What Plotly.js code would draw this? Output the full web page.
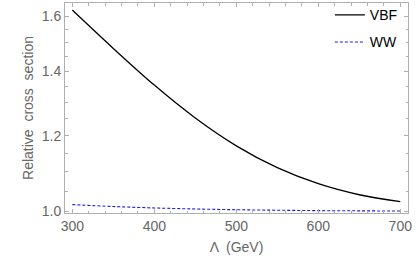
<!DOCTYPE html>
<html>
<head>
<meta charset="utf-8">
<script src="https://cdn.plot.ly/plotly-3.0.1.min.js"></script>
<style>html,body{margin:0;padding:0;background:#fff;}#chart{width:416px;height:256px;}</style>
</head>
<body>
<div id="chart"></div>
<script>
const lambdaVals = [300, 350, 400, 450, 500, 550, 600, 650, 700];
const vbfVals = [1.623, 1.480, 1.355, 1.252, 1.171, 1.111, 1.069, 1.041, 1.024];
const wwVals = [1.0165, 1.012, 1.0085, 1.006, 1.0042, 1.003, 1.002, 1.0015, 1.001];
const yTickVals = [1.0, 1.2, 1.4, 1.6];
const yTickText = ["1.0", "1.2", "1.4", "1.6"];
const yMinorVals = [1.05, 1.1, 1.15, 1.25, 1.3, 1.35, 1.45, 1.5, 1.55, 1.65];
const xTickVals = [300, 400, 500, 600, 700];
const seriesNames = ["VBF", "WW"];

const grey = "#666666";
const axisCol = "#b0b0b0";

const traces = [
  {x: lambdaVals, y: vbfVals, name: seriesNames[0], mode: "lines", type: "scatter",
   line: {color: "#000000", width: 1.3, shape: "spline"}, legendgroup: "a"},
  {x: lambdaVals, y: wwVals, name: seriesNames[1], mode: "lines", type: "scatter",
   line: {color: "#1a1aee", width: 1.1, dash: "3px,2px", shape: "spline"}, legendgroup: "b"}
];

const layout = {
  width: 416, height: 256,
  margin: {l: 65, r: 8, t: 3, b: 43, autoexpand: false},
  paper_bgcolor: "#fff", plot_bgcolor: "#fff",
  font: {family: "Liberation Sans, Arial, sans-serif", size: 14, color: grey},
  showlegend: true,
  legend: {x: 0.985, y: 1.018, xanchor: "right", yanchor: "top", bgcolor: "rgba(0,0,0,0)",
           font: {color: "#000", size: 14}, tracegroupgap: 6, traceorder: "grouped"},
  xaxis: {
    range: [291.1, 709.4], tickvals: xTickVals, ticks: "inside", ticklen: 4, tickcolor: axisCol,
    showline: true, linecolor: axisCol, linewidth: 1, mirror: "ticks", showgrid: false, zeroline: false,
    tickfont: {size: 14, color: grey},
    minor: {dtick: 20, tick0: 300, ticks: "inside", ticklen: 2.5, tickcolor: axisCol, showgrid: false},
    title: {text: "Λ  (GeV)", font: {size: 14, color: grey}, standoff: 9}
  },
  yaxis: {
    type: "log", range: [-0.0016, 0.2177], tickvals: yTickVals, ticktext: yTickText,
    ticks: "inside", ticklen: 4, tickcolor: axisCol,
    showline: true, linecolor: axisCol, linewidth: 1, mirror: "ticks", showgrid: false, zeroline: false,
    tickfont: {size: 14, color: grey},
    minor: {tickmode: "array", tickvals: yMinorVals, ticks: "inside", ticklen: 2.5, tickcolor: axisCol, showgrid: false},
    title: {text: "Relative  cross  section", font: {size: 14, color: grey}, standoff: 4}
  }
};

Plotly.newPlot("chart", traces, layout, {staticPlot: true, displayModeBar: false});
</script>
</body>
</html>
